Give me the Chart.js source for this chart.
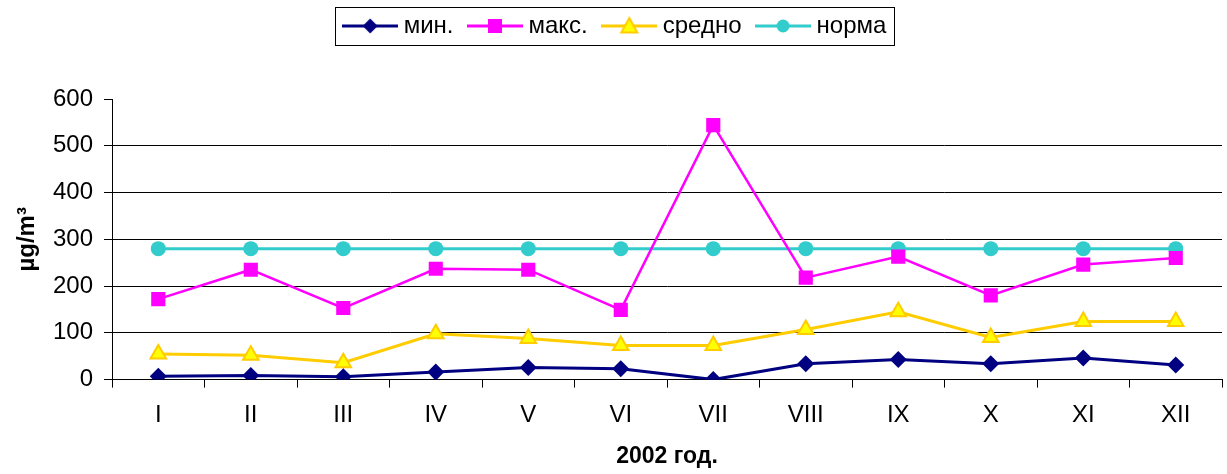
<!DOCTYPE html>
<html>
<head>
<meta charset="utf-8">
<script src="https://cdn.jsdelivr.net/npm/chart.js@4.4.0/dist/chart.umd.min.js"></script>
<style>
  html, body { margin: 0; padding: 0; background: #fff; }
  #wrap { width: 1227px; height: 474px; position: relative; }
</style>
</head>
<body>
<div id="wrap"><canvas id="chart"></canvas></div>
<script>
var months = ["I", "II", "III", "IV", "V", "VI", "VII", "VIII", "IX", "X", "XI", "XII"];
var minValues = [7, 9, 6, 16, 26, 23, 0, 34, 43, 34, 46, 31];
var maxValues = [172, 235, 153, 237, 235, 149, 544, 218, 263, 180, 246, 260];
var avgValues = [55, 52, 36, 98, 88, 73, 73, 107, 145, 90, 124, 124];
var normValues = [280, 280, 280, 280, 280, 280, 280, 280, 280, 280, 280, 280];
var yTicks = [0, 100, 200, 300, 400, 500, 600];

var FONT = "'Liberation Sans', Arial, sans-serif";

// small canvas with a line and the marker in the middle, used as legend symbol
function legendIcon(line, fill, stroke, shape) {
  var c = document.createElement("canvas");
  c.width = 56;
  c.height = 24;
  var g = c.getContext("2d");
  g.strokeStyle = line;
  g.lineWidth = 3;
  g.beginPath();
  g.moveTo(0, 12);
  g.lineTo(56, 12);
  g.stroke();
  g.fillStyle = fill;
  g.strokeStyle = stroke;
  g.lineWidth = 2;
  g.beginPath();
  if (shape == "diamond") {
    g.moveTo(28, 4.5); g.lineTo(35.5, 12); g.lineTo(28, 19.5); g.lineTo(20.5, 12); g.closePath();
  } else if (shape == "square") {
    g.rect(21, 5, 14, 14);
  } else if (shape == "triangle") {
    g.moveTo(28, 4); g.lineTo(36, 18.5); g.lineTo(20, 18.5); g.closePath();
  } else {
    g.arc(28, 12, 6.5, 0, Math.PI * 2);
  }
  g.fill();
  if (shape == "triangle") g.stroke();
  return c;
}

var icons = [
  legendIcon("#000080", "#000080", "#000080", "diamond"),
  legendIcon("#FF00FF", "#FF00FF", "#FF00FF", "square"),
  legendIcon("#FFCC00", "#FFFF00", "#FFCC00", "triangle"),
  legendIcon("#33CCCC", "#33CCCC", "#33CCCC", "circle")
];

// frame around the legend + extra room below it
var legendFrame = {
  id: "legendFrame",
  beforeInit: function (chart) {
    var fit = chart.legend.fit;
    chart.legend.fit = function () {
      fit.call(this);
      this.height = 105;
    };
  },
  afterDraw: function (chart) {
    var boxes = chart.legend.legendHitBoxes;
    if (!boxes || !boxes.length) return;
    var l = Infinity, t = Infinity, r = -Infinity, b = -Infinity;
    boxes.forEach(function (h) {
      l = Math.min(l, h.left); t = Math.min(t, h.top);
      r = Math.max(r, h.left + h.width); b = Math.max(b, h.top + h.height);
    });
    var ctx = chart.ctx;
    ctx.save();
    ctx.strokeStyle = "#000";
    ctx.lineWidth = 1;
    var x0 = Math.round(l - 14) + 0.5, y0 = Math.round(t - 7) + 0.5;
    var x1 = Math.round(r + 8) + 0.5, y1 = Math.round(b + 7) + 0.5;
    ctx.strokeRect(x0, y0, x1 - x0, y1 - y0);
    ctx.restore();
  }
};

var ctx = document.getElementById("chart").getContext("2d");
var myChart = new Chart(ctx, {
  type: "line",
  data: {
    labels: months,
    datasets: [
      {
        label: "мин.",
        data: minValues,
        borderColor: "#000080",
        backgroundColor: "#000080",
        borderWidth: 3,
        pointStyle: "rectRot",
        pointRadius: 8.5,
        pointBorderWidth: 0
      },
      {
        label: "макс.",
        data: maxValues,
        borderColor: "#FF00FF",
        backgroundColor: "#FF00FF",
        borderWidth: 2.5,
        pointStyle: "rect",
        pointRadius: 10,
        pointBorderWidth: 0
      },
      {
        label: "средно",
        data: avgValues,
        borderColor: "#FFCC00",
        backgroundColor: "#FFFF00",
        borderWidth: 3,
        pointStyle: "triangle",
        pointRadius: 9,
        pointBorderColor: "#FFCC00",
        pointBorderWidth: 2
      },
      {
        label: "норма",
        data: normValues,
        borderColor: "#33CCCC",
        backgroundColor: "#33CCCC",
        borderWidth: 3,
        pointStyle: "circle",
        pointRadius: 7.5,
        pointBorderWidth: 0
      }
    ]
  },
  options: {
    responsive: true,
    maintainAspectRatio: false,
    animation: false,
    layout: { autoPadding: false, padding: { left: 13, right: 5, top: -6, bottom: 4 } },
    plugins: {
      tooltip: { enabled: false },
      legend: {
        position: "top",
        onClick: null,
        labels: {
          usePointStyle: true,
          pointStyleWidth: 43,
          boxHeight: 24,
          padding: 20,
          color: "#000",
          font: { family: FONT, size: 24 },
          generateLabels: function (chart) {
            return chart.data.datasets.map(function (ds, i) {
              return {
                text: ds.label,
                pointStyle: icons[i],
                fontColor: "#000",
                datasetIndex: i,
                hidden: false
              };
            });
          }
        }
      }
    },
    scales: {
      x: {
        offset: true,
        afterFit: function (axis) {
          axis.paddingLeft = 0;
          axis.paddingRight = 0;
        },
        grid: {
          display: true,
          offset: true,
          drawOnChartArea: false,
          drawTicks: true,
          tickLength: 8,
          color: "#000"
        },
        border: { color: "#000", width: 1 },
        ticks: { color: "#000", font: { family: FONT, size: 24 }, padding: 13 },
        title: {
          display: true,
          text: "2002 год.",
          color: "#000",
          font: { family: FONT, size: 23, weight: "bold" },
          padding: { top: 0, bottom: 0 }
        }
      },
      y: {
        min: 0,
        max: 600,
        afterBuildTicks: function (axis) {
          axis.ticks = yTicks.map(function (v) { return { value: v }; });
        },
        grid: {
          color: function (c) { return c.tick && c.tick.value === 600 ? "rgba(0,0,0,0)" : "#000"; },
          tickColor: "#000",
          tickLength: 8,
          lineWidth: 1
        },
        border: { color: "#000", width: 1 },
        ticks: { color: "#000", font: { family: FONT, size: 24 }, padding: 11 },
        title: {
          display: true,
          text: "µg/m³",
          color: "#000",
          font: { family: FONT, size: 24, weight: "bold", lineHeight: 1 },
          padding: { top: 2, bottom: 3 }
        }
      }
    }
  },
  plugins: [legendFrame]
});
</script>
</body>
</html>
